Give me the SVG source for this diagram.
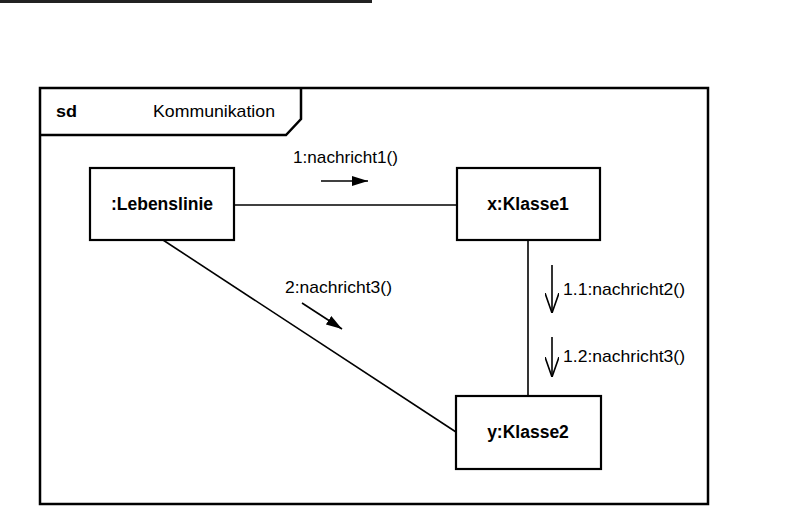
<svg xmlns="http://www.w3.org/2000/svg" width="787" height="507" viewBox="0 0 787 507">
  <defs>
    <style>
      .frame { fill: none; stroke: #000; stroke-width: 2.5; }
      .node rect { fill: #fff; stroke: #000; stroke-width: 2.2; }
      .node text { font-family: "Liberation Sans", Arial, sans-serif; font-weight: bold; font-size: 17.5px; text-anchor: middle; fill: #000; }
      .link { fill: none; stroke: #000; stroke-width: 1.6; }
      .msg { fill: none; stroke: #000; stroke-width: 1.6; }
      .lbl { font-family: "Liberation Sans", Arial, sans-serif; font-size: 17px; fill: #000; }
    </style>
    <marker id="filled" viewBox="0 0 16 10" refX="16" refY="5" markerWidth="16" markerHeight="10" markerUnits="userSpaceOnUse" orient="auto">
      <path d="M0,0 L16,5 L0,10 Z" fill="#000"/>
    </marker>
    <marker id="open" viewBox="0 0 20 14" refX="20" refY="7" markerWidth="20" markerHeight="14" markerUnits="userSpaceOnUse" orient="auto">
      <path d="M0,0 L20,7 L0,14" fill="none" stroke="#000" stroke-width="1.6"/>
    </marker>
  </defs>

  <rect width="787" height="507" fill="#fff"/>

  <!-- header rule -->
  <line x1="0" y1="1.5" x2="372" y2="1.5" stroke="#222" stroke-width="3"/>

  <!-- interaction frame -->
  <g id="frame">
    <rect class="frame" x="40" y="88" width="668" height="416"/>
    <path class="frame" d="M40,135 L286,135 L301,119 L301,88"/>
    <text x="56" y="117" font-family="Liberation Sans, Arial, sans-serif" font-weight="bold" font-size="17" textLength="21" lengthAdjust="spacingAndGlyphs">sd</text>
    <text x="153" y="117" class="lbl" textLength="122" lengthAdjust="spacingAndGlyphs">Kommunikation</text>
  </g>

  <!-- links and messages -->
  <g id="connectors">
    <line class="link" x1="234" y1="205" x2="457" y2="205"/>
    <line class="link" x1="528" y1="240" x2="528" y2="396"/>
    <line class="link" x1="163" y1="240" x2="456" y2="432"/>

    <line class="msg" x1="321" y1="181" x2="368" y2="181" marker-end="url(#filled)"/>
    <text class="lbl" x="293" y="163" textLength="105" lengthAdjust="spacingAndGlyphs">1:nachricht1()</text>

    <line class="msg" x1="302" y1="303" x2="342" y2="329" marker-end="url(#filled)"/>
    <text class="lbl" x="285" y="293" textLength="107" lengthAdjust="spacingAndGlyphs">2:nachricht3()</text>

    <line class="msg" x1="552" y1="265" x2="552" y2="313" marker-end="url(#open)"/>
    <text class="lbl" x="563" y="295" textLength="122" lengthAdjust="spacingAndGlyphs">1.1:nachricht2()</text>

    <line class="msg" x1="552" y1="337" x2="552" y2="377" marker-end="url(#open)"/>
    <text class="lbl" x="563" y="362" textLength="122" lengthAdjust="spacingAndGlyphs">1.2:nachricht3()</text>
  </g>

  <g id="lebenslinie" class="node">
    <rect x="90" y="168" width="144" height="72"/>
    <text x="162" y="210">:Lebenslinie</text>
  </g>

  <g id="klasse1" class="node">
    <rect x="457" y="168" width="143" height="72"/>
    <text x="528" y="210">x:Klasse1</text>
  </g>

  <g id="klasse2" class="node">
    <rect x="456" y="396" width="145" height="73"/>
    <text x="528" y="438">y:Klasse2</text>
  </g>
</svg>
